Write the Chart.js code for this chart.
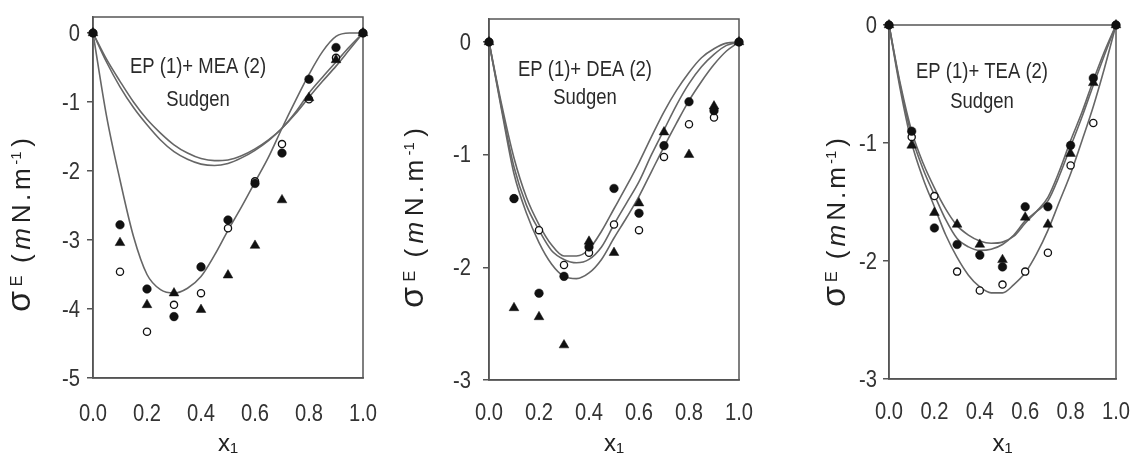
<!DOCTYPE html>
<html lang="en">
<head>
<meta charset="UTF-8">
<title>Excess surface tension - EP + alkanolamines</title>
<script src="https://cdn.jsdelivr.net/npm/chart.js"></script>
<style>
  body { margin: 0; background: #fff; }
  #wrap { position: relative; width: 1132px; height: 464px; overflow: hidden; }
  .panel { position: absolute; top: 0; height: 464px; }
  canvas { display: block; }
</style>
</head>
<body>
<div id="wrap">
  <div class="panel" style="left:0px;width:380px"><canvas id="mea" width="380" height="464"></canvas></div>
  <div class="panel" style="left:380px;width:380px"><canvas id="dea" width="380" height="464"></canvas></div>
  <div class="panel" style="left:760px;width:372px"><canvas id="tea" width="372" height="464"></canvas></div>
</div>
<script>
// compositions (x1 of EP) of the measured points
const xExp = [0, 0.1, 0.2, 0.3, 0.4, 0.5, 0.6, 0.7, 0.8, 0.9, 1.0];
// compositions of the fitted curves
const xFit = [0, 0.05, 0.1, 0.15, 0.2, 0.25, 0.3, 0.35, 0.4, 0.45, 0.5,
              0.55, 0.6, 0.65, 0.7, 0.75, 0.8, 0.85, 0.9, 0.95, 1.0];
const xTicks = [0, 0.2, 0.4, 0.6, 0.8, 1.0];
const yTicksMEA = [-5, -4, -3, -2, -1, 0];
const yTicksAmine = [-3, -2, -1, 0];

const panelTitles = ['EP (1)+ MEA (2)', 'EP (1)+ DEA (2)', 'EP (1)+ TEA (2)'];
const methodLabel = 'Sudgen';

// EP + MEA
const meaFilled = [0, -2.78, -3.71, -4.11, -3.39, -2.71, -2.18, -1.74, -0.67, -0.21, 0];
const meaTriangle = [0, -3.04, -3.94, -3.77, -4.01, -3.51, -3.08, -2.42, -0.94, -0.39, 0];
const meaOpen = [0, -3.46, -4.33, -3.94, -3.77, -2.83, -2.15, -1.61, -0.96, -0.36, 0];
const meaFitA = [0, -0.38, -0.7, -1.0, -1.25, -1.45, -1.62, -1.74, -1.82, -1.85, -1.84,
                 -1.78, -1.68, -1.55, -1.38, -1.15, -0.87, -0.64, -0.42, -0.2, 0];
const meaFitB = [0, -0.42, -0.78, -1.08, -1.33, -1.55, -1.72, -1.83, -1.9, -1.92, -1.89,
                 -1.81, -1.7, -1.56, -1.38, -1.17, -0.93, -0.7, -0.48, -0.24, 0];
const meaFitC = [0, -1.2, -2.13, -2.95, -3.5, -3.72, -3.77, -3.7, -3.53, -3.22, -2.86,
                 -2.52, -2.16, -1.8, -1.38, -0.98, -0.6, -0.27, -0.05, 0, 0];

// EP + DEA
const deaFilled = [0, -1.39, -2.23, -2.08, -1.82, -1.30, -1.52, -0.92, -0.53, -0.61, 0];
const deaTriangle = [0, -2.36, -2.44, -2.69, -1.77, -1.87, -1.43, -0.80, -1.00, -0.57, 0];
const deaOpen = [0, -1.39, -1.67, -1.98, -1.87, -1.62, -1.67, -1.02, -0.73, -0.67, 0];
const deaFitA = [0, -0.55, -1.03, -1.38, -1.62, -1.8, -1.9, -1.9, -1.84, -1.68, -1.48,
                 -1.28, -1.07, -0.84, -0.62, -0.43, -0.27, -0.14, -0.06, -0.01, 0];
const deaFitB = [0, -0.58, -1.11, -1.45, -1.67, -1.85, -1.93, -1.96, -1.93, -1.82, -1.62,
                 -1.43, -1.24, -1.0, -0.78, -0.56, -0.37, -0.22, -0.11, -0.03, 0];
const deaFitC = [0, -0.6, -1.17, -1.52, -1.78, -1.97, -2.08, -2.1, -2.05, -1.93, -1.74,
                 -1.56, -1.37, -1.15, -0.93, -0.72, -0.52, -0.35, -0.2, -0.08, 0];

// EP + TEA
const teaFilled = [0, -0.90, -1.72, -1.86, -1.95, -2.05, -1.54, -1.54, -1.02, -0.45, 0];
const teaTriangle = [0, -1.02, -1.59, -1.69, -1.86, -1.99, -1.63, -1.69, -1.09, -0.49, 0];
const teaOpen = [0, -0.95, -1.45, -2.09, -2.25, -2.2, -2.09, -1.93, -1.19, -0.83, 0];
const teaFitA = [0, -0.5, -0.9, -1.17, -1.38, -1.56, -1.7, -1.78, -1.83, -1.85, -1.84,
                 -1.79, -1.68, -1.58, -1.46, -1.24, -0.98, -0.74, -0.47, -0.22, 0];
const teaFitB = [0, -0.52, -0.94, -1.22, -1.44, -1.65, -1.81, -1.88, -1.91, -1.9, -1.86,
                 -1.78, -1.66, -1.58, -1.49, -1.28, -1.03, -0.78, -0.51, -0.25, 0];
const teaFitC = [0, -0.55, -1.0, -1.3, -1.54, -1.78, -1.97, -2.12, -2.22, -2.27, -2.27,
                 -2.2, -2.1, -1.94, -1.74, -1.5, -1.26, -0.98, -0.69, -0.36, 0];

const H = 464;
const INK = '#111';
const AXIS = '#555';
const CURVE = '#666';
const REGULAR = "'Liberation Sans', Arial, sans-serif";
const SQUEEZE = 0.84;   // the original uses a condensed face

function pts(xs, ys) {
    return xs.map((x, i) => ({ x: x, y: ys[i] }));
}

function narrowText(ctx, text, x, y, align) {
    ctx.save();
    ctx.translate(x, y);
    ctx.scale(SQUEEZE, 1);
    ctx.textAlign = align;
    ctx.fillText(text, 0, 0);
    ctx.restore();
}

// frame, condensed tick labels, panel caption and the rotated y label
const panelDecor = {
    id: 'panelDecor',
    beforeDatasetsDraw(chart) {
        const a = chart.chartArea, ctx = chart.ctx;
        ctx.save();
        ctx.strokeStyle = AXIS;
        ctx.lineWidth = 1.5;
        ctx.strokeRect(a.left, a.top, a.right - a.left, a.bottom - a.top);
        ctx.restore();
    },
    afterDraw(chart, args, o) {
        const ctx = chart.ctx, a = chart.chartArea;
        const sx = chart.scales.x, sy = chart.scales.y;
        ctx.save();
        ctx.textBaseline = 'middle';

        // tick labels
        ctx.fillStyle = '#333';
        ctx.font = '24px ' + REGULAR;
        xTicks.forEach(v => narrowText(ctx, v.toFixed(1), sx.getPixelForValue(v), o.xLabelY, 'center'));
        sy.ticks.forEach(t => narrowText(ctx, String(t.value), a.left - o.yLabelGap, sy.getPixelForValue(t.value) + 1, 'right'));

        // caption
        ctx.fillStyle = '#2a2a2a';
        ctx.font = '22px ' + REGULAR;
        narrowText(ctx, o.title, o.titleX, o.titleY, 'center');
        narrowText(ctx, methodLabel, o.titleX, o.methodY, 'center');

        // y label: sigma^E (mN.m^-1), written bottom to top
        const parts = [
            { t: 'σ', size: 34, rise: 0, gap: 0 },
            { t: 'E', size: 16, rise: 8, gap: 1 },
            { t: '(', size: 26, rise: 0, gap: 9 },
            { t: 'm', size: 26, rise: 0, gap: 1, italic: true },
            { t: 'N', size: 26, rise: 0, gap: 1 },
            { t: '.', size: 26, rise: 0, gap: 0 },
            { t: 'm', size: 26, rise: 0, gap: 0 },
            { t: '-1', size: 15, rise: 9, gap: 0 },
            { t: ')', size: 26, rise: 0, gap: 1 }
        ];
        const fontOf = p => (p.italic ? 'italic ' : '') + p.size + 'px ' + REGULAR;
        let total = 0;
        parts.forEach(p => { ctx.font = fontOf(p); p.w = ctx.measureText(p.t).width; total += p.w + p.gap; });
        const stretch = Math.max(0, (o.labelLen - total) / (parts.length - 1));
        ctx.fillStyle = '#222';
        ctx.translate(o.labelX, o.labelBottom);
        ctx.rotate(-Math.PI / 2);
        ctx.textAlign = 'left';
        ctx.textBaseline = 'alphabetic';
        let pos = 0;
        parts.forEach((p, i) => {
            if (i > 0) pos += p.gap + stretch;
            ctx.font = fontOf(p);
            ctx.fillText(p.t, pos, -p.rise);
            pos += p.w;
        });
        ctx.restore();
    }
};

function makePanel(id, cfg) {
    const canvas = document.getElementById(id);
    const W = canvas.width;
    const a = cfg.area;
    const marker = (label, ys, style, filled, radius) => ({
        label: label,
        data: pts(xExp, ys),
        showLine: false,
        pointStyle: style,
        pointRadius: radius,
        pointBackgroundColor: filled ? INK : '#fff',
        pointBorderColor: INK,
        pointBorderWidth: filled ? 0.5 : 1.3,
        clip: false,
        order: 0
    });
    const curve = (label, ys) => ({
        label: label,
        data: pts(xFit, ys),
        showLine: true,
        borderColor: CURVE,
        borderWidth: 1.6,
        pointRadius: 0,
        cubicInterpolationMode: 'monotone',
        clip: 4,
        order: 1
    });
    return new Chart(canvas, {
        type: 'scatter',
        data: {
            datasets: [
                marker('filled', cfg.filled, 'circle', true, 4.3),
                marker('triangle', cfg.triangle, 'triangle', true, 5.6),
                marker('open', cfg.open, 'circle', false, 3.6),
                curve('fit A', cfg.fits[0]),
                curve('fit B', cfg.fits[1]),
                curve('fit C', cfg.fits[2])
            ]
        },
        options: {
            responsive: false,
            animation: false,
            devicePixelRatio: 1,
            layout: { padding: { left: 0, top: a.top, right: W - a.right, bottom: 0 } },
            plugins: {
                legend: { display: false },
                tooltip: { enabled: false },
                panelDecor: cfg.decor
            },
            scales: {
                x: {
                    type: 'linear',
                    min: 0,
                    max: 1,
                    afterBuildTicks: s => { s.ticks = xTicks.map(v => ({ value: v })); },
                    afterFit: s => { s.height = H - a.bottom; },
                    grid: { display: true, drawOnChartArea: false, drawTicks: false },
                    border: { display: true, color: AXIS, width: 1.5 },
                    ticks: { display: false },
                    title: {
                        display: true,
                        text: 'x₁',
                        color: '#222',
                        font: { family: REGULAR, size: 24 },
                        padding: { top: 0, bottom: 5 }
                    }
                },
                y: {
                    type: 'linear',
                    min: cfg.yMin,
                    max: cfg.yMax,
                    afterBuildTicks: s => { s.ticks = cfg.yTicks.map(v => ({ value: v })); },
                    afterFit: s => { s.width = a.left; },
                    grid: { display: true, drawOnChartArea: false, drawTicks: true, tickLength: 6, color: AXIS, lineWidth: 1.5 },
                    border: { display: true, color: AXIS, width: 1.5 },
                    ticks: { display: false }
                }
            }
        },
        plugins: [panelDecor]
    });
}

makePanel('mea', {
    area: { left: 93, right: 363, top: 17, bottom: 378 },
    yMin: -5, yMax: 0.232, yTicks: yTicksMEA,
    filled: meaFilled, triangle: meaTriangle, open: meaOpen,
    fits: [meaFitA, meaFitB, meaFitC],
    decor: { title: panelTitles[0], titleX: 198, titleY: 67, methodY: 100,
             xLabelY: 414, yLabelGap: 13,
             labelX: 30, labelBottom: 312, labelLen: 174 }
});

makePanel('dea', {
    area: { left: 109, right: 359, top: 19, bottom: 380 },
    yMin: -3, yMax: 0.204, yTicks: yTicksAmine,
    filled: deaFilled, triangle: deaTriangle, open: deaOpen,
    fits: [deaFitA, deaFitB, deaFitC],
    decor: { title: panelTitles[1], titleX: 205, titleY: 70, methodY: 98,
             xLabelY: 413, yLabelGap: 18,
             labelX: 43, labelBottom: 308, labelLen: 180 }
});

makePanel('tea', {
    area: { left: 129, right: 356, top: 25, bottom: 379 },
    yMin: -3, yMax: 0, yTicks: yTicksAmine,
    filled: teaFilled, triangle: teaTriangle, open: teaOpen,
    fits: [teaFitA, teaFitB, teaFitC],
    decor: { title: panelTitles[2], titleX: 222, titleY: 72, methodY: 102,
             xLabelY: 412, yLabelGap: 12,
             labelX: 85, labelBottom: 307, labelLen: 169 }
});
</script>
</body>
</html>
